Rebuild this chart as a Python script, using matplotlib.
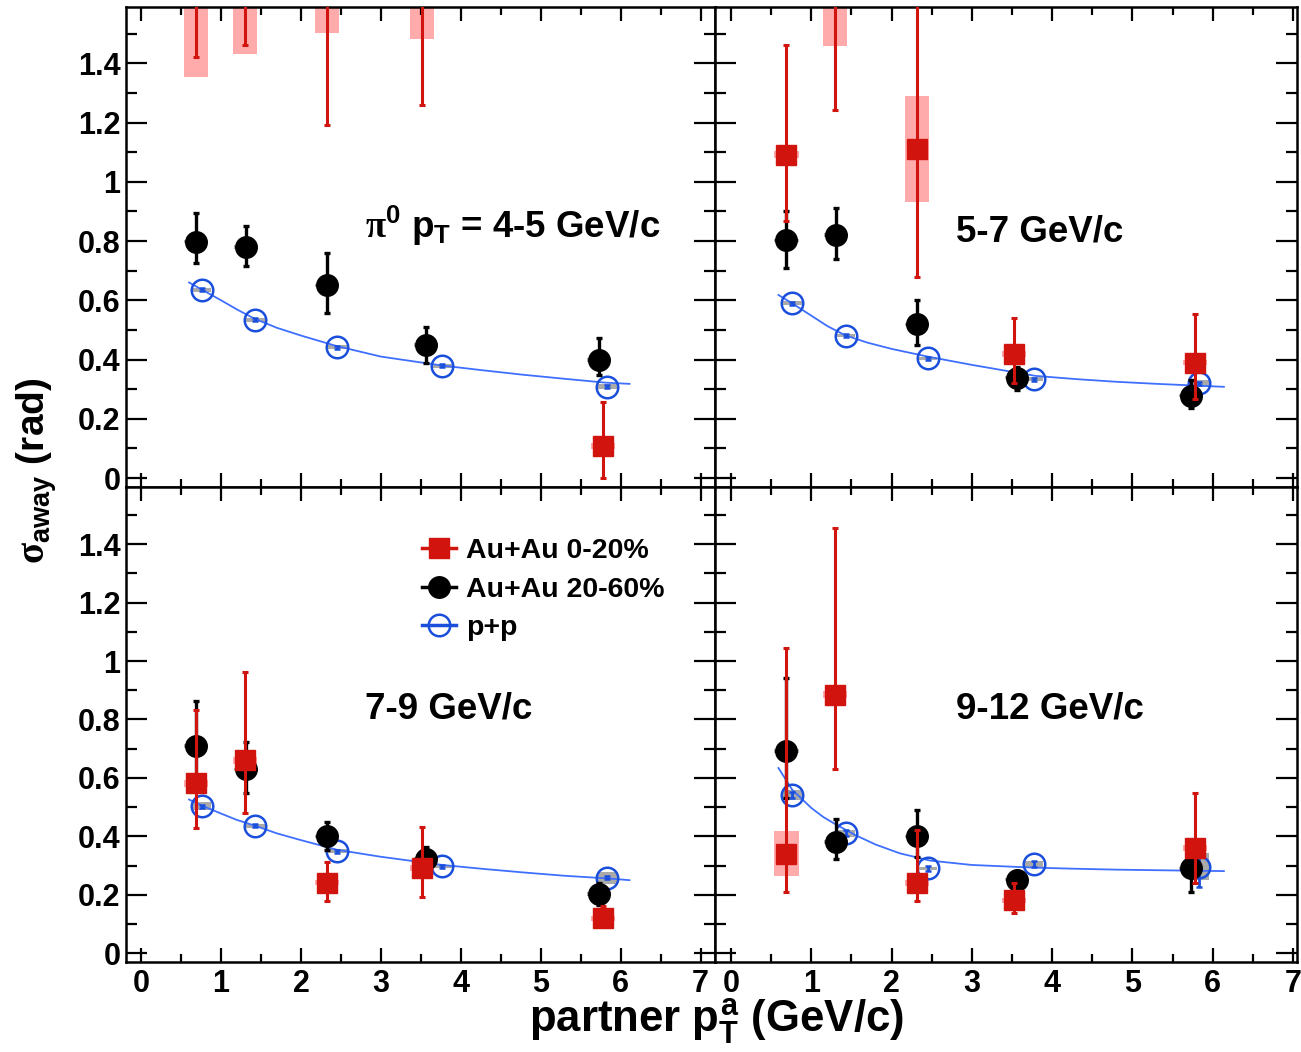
import matplotlib.pyplot as plt
from matplotlib.lines import Line2D
from matplotlib.ticker import FuncFormatter, MultipleLocator

plt.rcParams["font.family"] = ["Liberation Sans", "DejaVu Sans"]
plt.rcParams["font.weight"] = "bold"
plt.rcParams["mathtext.fontset"] = "custom"
plt.rcParams["mathtext.rm"] = "Liberation Sans:bold"
plt.rcParams["mathtext.it"] = "Liberation Sans:bold"
plt.rcParams["mathtext.bf"] = "Liberation Sans:bold"
plt.rcParams["mathtext.sf"] = "Liberation Serif"

# panels: pi0 pT = 4-5, 5-7, 7-9, 9-12 GeV/c  (TL, TR, BL, BR)
PANEL_TEXT = [r"$\mathsf{\pi}^{0}$ $p_{T}$ = 4-5 GeV/c", "5-7 GeV/c", "7-9 GeV/c", "9-12 GeV/c"]

X_AU0 = [0.69, 1.30, 2.32, 3.52, 5.78]
X_AU20 = [0.69, 1.31, 2.32, 3.56, 5.73]
X_PP = [0.76, 1.43, 2.45, 3.77, 5.83]

# Au+Au 0-20%
AU0_Y = [[1.70, 1.65, 1.65, 1.65, 0.108],
         [1.091, 1.65, 1.110, 0.419, 0.390],
         [0.581, 0.661, 0.241, 0.292, 0.119],
         [0.341, 0.884, 0.241, 0.181, 0.361]]
AU0_LO = [[0.279, 0.19, 0.46, 0.39, 0.108],
          [0.222, 0.409, 0.43, 0.099, 0.123],
          [0.151, 0.181, 0.062, 0.101, 0.03],
          [0.131, 0.252, 0.062, 0.045, 0.122]]
AU0_HI = [[0.20, 0.20, 0.20, 0.20, 0.15],
          [0.37, 0.20, 0.485, 0.122, 0.163],
          [0.253, 0.302, 0.072, 0.141, 0.042],
          [0.705, 0.57, 0.18, 0.06, 0.189]]
AU0_SYS = [[0.346, 0.219, 0.148, 0.168, 0.01],
           [0.012, 0.193, 0.178, 0.01, 0.01],
           [0.012, 0.012, 0.008, 0.01, 0.008],
           [0.078, 0.012, 0.01, 0.008, 0.01]]

# Au+Au 20-60%
AU20_Y = [[0.798, 0.780, 0.650, 0.449, 0.399],
          [0.802, 0.821, 0.519, 0.339, 0.278],
          [0.710, 0.629, 0.400, 0.324, 0.202],
          [0.693, 0.381, 0.400, 0.252, 0.290]]
AU20_LO = [[0.071, 0.064, 0.092, 0.061, 0.051],
           [0.092, 0.082, 0.070, 0.042, 0.042],
           [0.12, 0.079, 0.047, 0.04, 0.037],
           [0.161, 0.059, 0.07, 0.03, 0.08]]
AU20_HI = [[0.097, 0.071, 0.110, 0.061, 0.074],
           [0.100, 0.090, 0.082, 0.037, 0.052],
           [0.153, 0.095, 0.050, 0.040, 0.037],
           [0.250, 0.080, 0.090, 0.03, 0.06]]
AU20_SYS = [[0.006, 0.006, 0.006, 0.006, 0.006],
            [0.006, 0.006, 0.006, 0.006, 0.006],
            [0.006, 0.006, 0.006, 0.006, 0.006],
            [0.006, 0.006, 0.006, 0.006, 0.006]]

# p+p
PP_Y = [[0.635, 0.534, 0.442, 0.379, 0.308],
        [0.590, 0.481, 0.404, 0.334, 0.320],
        [0.503, 0.436, 0.349, 0.298, 0.258],
        [0.541, 0.410, 0.290, 0.304, 0.296]]
PP_ERR = [[0.005, 0.005, 0.005, 0.005, 0.005],
          [0.005, 0.005, 0.005, 0.005, 0.005],
          [0.005, 0.005, 0.005, 0.005, 0.005],
          [0.01, 0.01, 0.01, 0.01, 0.071]]
PP_SYS = [[0.006, 0.006, 0.006, 0.006, 0.008],
          [0.006, 0.006, 0.006, 0.006, 0.012],
          [0.013, 0.006, 0.006, 0.005, 0.02],
          [0.016, 0.011, 0.006, 0.01, 0.046]]

# p+p fit curves
FIT_X = [[0.60, 0.76, 1.0, 1.2, 1.41, 1.7, 2.0, 2.44, 3.0, 3.76, 4.3, 4.77, 5.3, 5.81, 6.11],
         [0.59, 0.76, 1.0, 1.2, 1.42, 1.7, 2.0, 2.45, 3.0, 3.79, 4.3, 4.8, 5.3, 5.80, 6.14],
         [0.60, 0.76, 1.0, 1.2, 1.43, 1.7, 2.0, 2.45, 3.0, 3.77, 4.3, 4.8, 5.3, 5.83, 6.11],
         [0.59, 0.76, 1.0, 1.15, 1.31, 1.55, 1.8, 2.1, 2.48, 3.0, 3.76, 4.3, 4.8, 5.84, 6.14]]
FIT_Y = [[0.660, 0.636, 0.600, 0.569, 0.539, 0.507, 0.481, 0.446, 0.410, 0.380, 0.363, 0.349, 0.335, 0.322, 0.318],
         [0.618, 0.590, 0.548, 0.513, 0.482, 0.457, 0.436, 0.410, 0.382, 0.345, 0.334, 0.325, 0.318, 0.312, 0.308],
         [0.526, 0.505, 0.478, 0.456, 0.436, 0.410, 0.387, 0.354, 0.330, 0.302, 0.288, 0.276, 0.265, 0.256, 0.250],
         [0.634, 0.560, 0.497, 0.466, 0.440, 0.404, 0.372, 0.342, 0.317, 0.302, 0.293, 0.289, 0.286, 0.282, 0.281]]
LABEL_Y = [0.811, 0.798, 0.805, 0.804]

LEGEND_LABELS = ["Au+Au 0-20%", "Au+Au 20-60%", "p+p"]

RED = "#d2140f"
PINK = "#ffabab"
GRAY = "#aaaaaa"
BLUE = "#1a4fdc"
FITBLUE = "#3f6fff"

fig = plt.figure(figsize=(13.01, 10.52), dpi=100)
L, M, R = 0.0968, 0.5496, 0.9969
B, C, T = 0.0856, 0.5371, 0.9934
axes = [
    fig.add_axes([L, C, M - L, T - C]),
    fig.add_axes([M, C, R - M, T - C]),
    fig.add_axes([L, B, M - L, C - B]),
    fig.add_axes([M, B, R - M, C - B]),
]

for i, ax in enumerate(axes):
    # systematic boxes
    ax.bar(X_AU0, [2 * s for s in AU0_SYS[i]], 0.3,
           bottom=[y - s for y, s in zip(AU0_Y[i], AU0_SYS[i])], color=PINK, zorder=1)
    ax.bar(X_AU20, [2 * s for s in AU20_SYS[i]], 0.3,
           bottom=[y - s for y, s in zip(AU20_Y[i], AU20_SYS[i])], color=GRAY, zorder=1)
    ax.bar(X_PP, [2 * s for s in PP_SYS[i]], 0.24,
           bottom=[y - s for y, s in zip(PP_Y[i], PP_SYS[i])], color=GRAY, zorder=2)

    ax.plot(FIT_X[i], FIT_Y[i], color=FITBLUE, lw=1.3, zorder=3)
    ax.errorbar(X_PP, PP_Y[i], yerr=PP_ERR[i], fmt="o", ms=15.5, mfc="none",
                mec=BLUE, mew=1.8, color=BLUE, elinewidth=2, capsize=2, capthick=2, zorder=4)
    ax.errorbar(X_AU20, AU20_Y[i], yerr=[AU20_LO[i], AU20_HI[i]], fmt="o", ms=15.5,
                color="black", elinewidth=2.4, capsize=2.5, capthick=2.4, zorder=5)
    ax.errorbar(X_AU0, AU0_Y[i], yerr=[AU0_LO[i], AU0_HI[i]], fmt="s", ms=15,
                color=RED, elinewidth=2.2, capsize=2.5, capthick=2.2, zorder=6)

    ax.text(2.80, LABEL_Y[i], PANEL_TEXT[i], fontsize=26.5, fontweight="bold",
            ha="left", va="baseline")

    left = i in (0, 2)
    top = i in (0, 1)
    ax.set_xlim(-0.19, 7.18) if left else ax.set_xlim(-0.20, 7.05)
    ax.set_ylim(-0.03, 1.59) if top else ax.set_ylim(-0.03, 1.596)

    ax.xaxis.set_major_locator(MultipleLocator(1))
    ax.xaxis.set_minor_locator(MultipleLocator(0.5))
    ax.yaxis.set_major_locator(MultipleLocator(0.2))
    ax.yaxis.set_minor_locator(MultipleLocator(0.1))
    ax.yaxis.set_major_formatter(FuncFormatter(lambda v, p: f"{v:g}"))
    ax.tick_params(which="both", direction="in", top=True, right=True, width=1.6,
                   labelsize=22, labelleft=left, labelbottom=not top)
    ax.tick_params(axis="x", which="major", length=10, pad=5)
    ax.tick_params(axis="x", which="minor", length=5.5)
    ax.tick_params(axis="y", which="major", length=15, pad=4)
    ax.tick_params(axis="y", which="minor", length=8)
    for lab in ax.get_xticklabels() + ax.get_yticklabels():
        lab.set_fontweight("bold")
    for sp in ax.spines.values():
        sp.set_linewidth(1.8)

handles = [
    Line2D([], [], color=RED, marker="s", ms=15, lw=2.5),
    Line2D([], [], color="black", marker="o", ms=15.5, lw=2.5),
    Line2D([], [], color=BLUE, marker="o", ms=15.5, mfc="none", mew=1.8, lw=2.5),
]
axes[2].legend(handles, LEGEND_LABELS, loc="upper left", bbox_to_anchor=(0.503, 0.893),
               frameon=False, handlelength=1.2, handletextpad=0.35,
               labelspacing=0.45, borderpad=0, borderaxespad=0,
               prop={"weight": "bold", "size": 20.5})

fig.text(0.551, 1 - 1032 / 1052, r"partner $p_{T}^{a}$ (GeV/c)", fontsize=31.5,
         fontweight="bold", ha="center", va="baseline")
fig.text(0.0285, 0.552, r"$\mathsf{\sigma}_{away}$ (rad)", fontsize=28,
         fontweight="bold", rotation=90, ha="center", va="center")

fig.savefig("out.png", dpi=100)
